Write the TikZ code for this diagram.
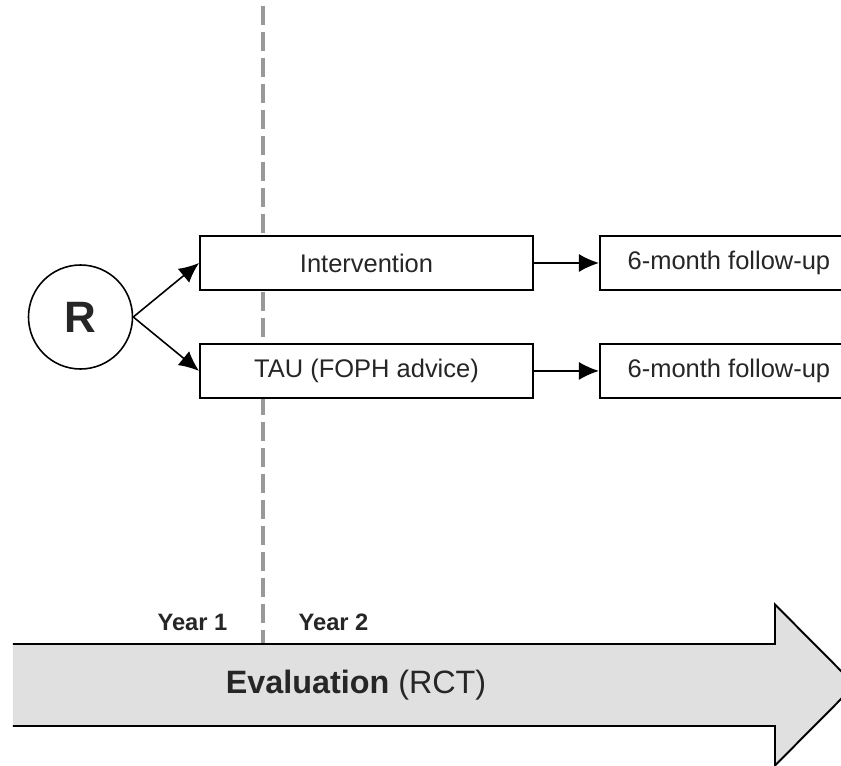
\documentclass[tikz,border=0pt]{standalone}
\usepackage{fontspec}
\setmainfont{Liberation Sans}
\usetikzlibrary{arrows.meta,positioning}

\begin{document}
\begin{tikzpicture}[
    every node/.style={font=\fontsize{14.5}{16}\selectfont, text=black!85},
    box/.style={draw, fill=white, line width=1.1pt, minimum height=1.08cm, inner sep=0pt},
    rand/.style={draw, circle, fill=white, line width=0.9pt, minimum size=2.08cm, inner sep=0pt, font=\fontsize{25}{28}\selectfont\bfseries},
    flow/.style={-{Latex[length=4mm, width=3.6mm]}, line width=0.9pt},
    divider/.style={draw=black!40, line width=2.8pt, dash pattern=on 0.38cm off 0.14cm},
    year/.style={font=\fontsize{13.5}{15}\selectfont\bfseries, anchor=base}
]
\clip (0,0) rectangle (16.82,15.32);
% year divider
\draw[divider] (5.26,15.2) -- (5.26,2.44);
% evaluation arrow
\fill[black!12] (0.26,2.44) -- (15.5,2.44) -- (15.5,3.23) -- (17.1,1.62) -- (15.5,0.01) -- (15.5,0.80) -- (0.26,0.80) -- cycle;
\draw[line width=1.1pt] (0.26,2.44) -- (15.5,2.44) -- (15.5,3.23) -- (17.1,1.62) -- (15.5,0.01) -- (15.5,0.80) -- (0.26,0.80);
\node (eval) at (7.12,1.62) {\fontsize{18.4}{20}\selectfont\textbf{Evaluation} (RCT)};
\node[year] (year1) at (3.85,2.7) {Year 1};
\node[year] (year2) at (6.67,2.7) {Year 2};
% trial arms
\node[rand] (rand) at (1.61,8.98) {R};
\node[box, minimum width=6.66cm] (interv) at (7.33,10.06) {Intervention};
\node[box, minimum width=6.66cm, below=1.04cm of interv] (tau) {TAU (FOPH advice)};
\node[box, minimum width=5.16cm, right=1.3cm of interv] (fuint) {6-month follow-up};
\node[box, minimum width=5.16cm, right=1.3cm of tau] (futau) {6-month follow-up};
\draw[flow] (rand.east) -- (interv.west);
\draw[flow] (rand.east) -- (tau.west);
\draw[flow] (interv) -- (fuint);
\draw[flow] (tau) -- (futau);
\end{tikzpicture}
\end{document}
